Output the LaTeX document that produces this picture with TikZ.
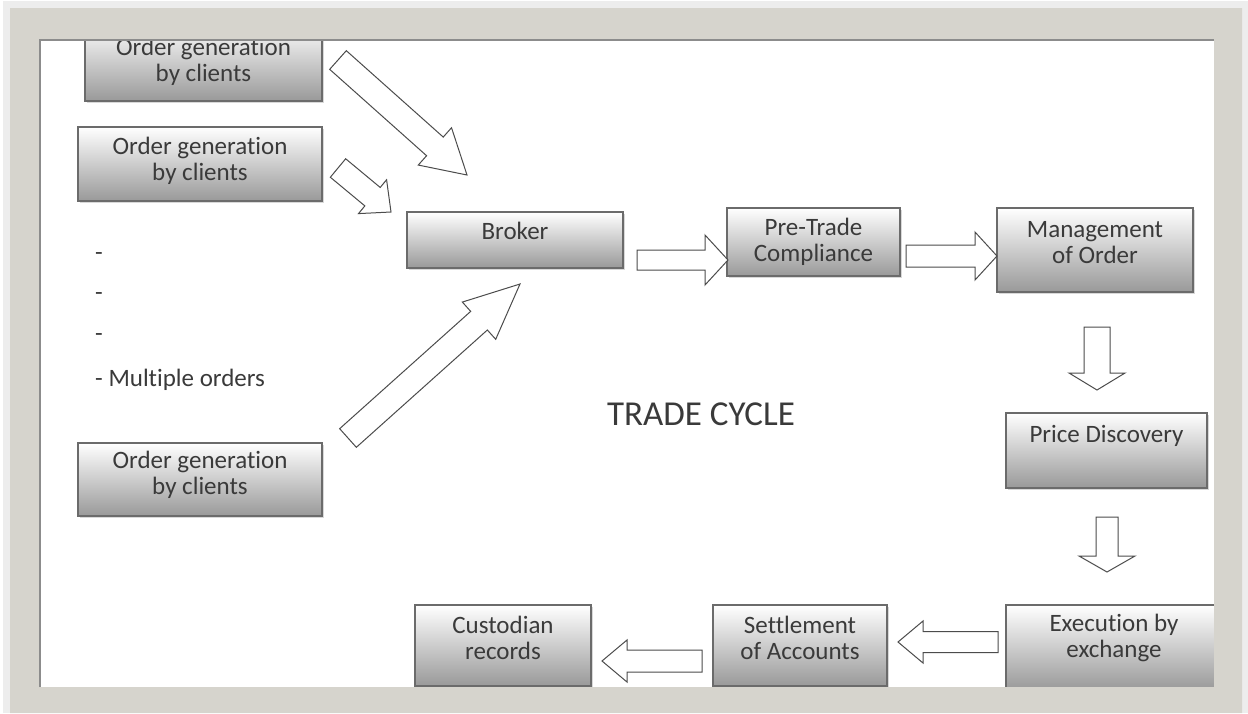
\documentclass[tikz,border=0pt]{standalone}
\usepackage{fontspec}
\setmainfont{Carlito}[Ligatures=NoCommon]
\usetikzlibrary{calc,shadows}

\definecolor{framecol}{RGB}{214,212,205}
\definecolor{inkgray}{RGB}{58,58,58}

% extra depth under the last line, pushes the text up in its box
\newcommand{\lift}[1]{\rule[-#1]{0pt}{#1}}
% hollow block arrow: tail, tip, half shaft, half head, head length
\newcommand{\fatarrow}[5]{%
  \draw[fat] ($(#1)!#3!90:(#2)$)
    -- ($(#2)!#5!(#1)!#3!-90:(#1)$)
    -- ($(#2)!#5!(#1)!#4!-90:(#1)$)
    -- (#2)
    -- ($(#2)!#5!(#1)!#4!90:(#1)$)
    -- ($(#2)!#5!(#1)!#3!90:(#1)$)
    -- ($(#1)!#3!-90:(#2)$) -- cycle;}

\tikzset{
  procbox/.style={draw=black!58, line width=1.1pt, top color=white,
    bottom color=black!40, align=center, text=inkgray, inner sep=0pt,
    font=\fontsize{25}{26}\selectfont,
    drop shadow={shadow xshift=1.5pt, shadow yshift=-2pt, opacity=.3}},
  note/.style={text=inkgray, inner sep=0pt, anchor=west,
    font=\fontsize{25}{26}\selectfont},
  fat/.style={draw=black!70, fill=white, line width=1pt, line join=miter},
}

\begin{document}
\begin{tikzpicture}[x=1pt,y=-1pt]
  \useasboundingbox (0,0) rectangle (1248,713);
  \fill[black!7] (3,1) rectangle (1248,713);
  \fill[white] (40,40) rectangle (1214,687);

  % clients
  \node[procbox, minimum width=237pt, minimum height=79pt] (client1)
    at (203.5,61.5) {Order generation\\by clients};
  \node[procbox, minimum width=244pt, minimum height=74pt] (client2)
    at (200,164) {Order generation\\by clients\lift{10pt}};
  \node[procbox, minimum width=244pt, minimum height=73pt] (client3)
    at (200,479.5) {Order generation\\by clients\lift{14pt}};

  \node[note] (dash1) at (95,257) {-};
  \node[note] (dash2) at (95,297) {-};
  \node[note] (dash3) at (95,338) {-};
  \node[note] (multi) at (95,380) {- Multiple orders};

  % cycle
  \node[procbox, minimum width=216pt, minimum height=56pt] (broker)
    at (515,240) {Broker\lift{18pt}};
  \node[procbox, minimum width=173pt, minimum height=68pt] (pretrade)
    at (813.5,242) {Pre-Trade\\Compliance};
  \node[procbox, minimum width=196pt, minimum height=84pt] (manage)
    at (1095,250) {Management\\of Order\lift{16pt}};
  \node[procbox, minimum width=201pt, minimum height=75pt] (price)
    at (1106.5,450.5) {Price Discovery\lift{33pt}};
  \node[procbox, minimum width=216pt, minimum height=85pt] (exec)
    at (1114,647.5) {Execution by\\exchange\lift{24pt}};
  \node[procbox, minimum width=174pt, minimum height=81pt] (settle)
    at (800,645.5) {Settlement\\of Accounts\lift{15pt}};
  \node[procbox, minimum width=176pt, minimum height=81pt] (custody)
    at (503,645.5) {Custodian\\records\lift{15pt}};

  \node[text=inkgray, font=\fontsize{35}{40}\selectfont] (cycle)
    at (701,414) {TRADE CYCLE};

  % block arrows
  \coordinate (c1s) at (338,60);    \coordinate (c1e) at (467,175);
  \coordinate (c2s) at (338,168);   \coordinate (c2e) at (391,212);
  \coordinate (c3s) at (348,438);   \coordinate (c3e) at (520,284);
  \coordinate (b1s) at (637,260);   \coordinate (b1e) at (728,260);
  \coordinate (p1s) at (906,256);   \coordinate (p1e) at (997,256);
  \coordinate (m1s) at (1097,327);  \coordinate (m1e) at (1097,390);
  \coordinate (d1s) at (1107,517);  \coordinate (d1e) at (1107,572);
  \coordinate (x1s) at (998,642);   \coordinate (x1e) at (898,642);
  \coordinate (s1s) at (702,661);   \coordinate (s1e) at (602,661);
  \fatarrow{c1s}{c1e}{12.5pt}{25pt}{43pt}
  \fatarrow{c2s}{c2e}{12pt}{22pt}{24pt}
  \fatarrow{c3s}{c3e}{12.5pt}{25pt}{55pt}
  \fatarrow{b1s}{b1e}{10pt}{25pt}{23pt}
  \fatarrow{p1s}{p1e}{11pt}{24pt}{22pt}
  \fatarrow{m1s}{m1e}{13pt}{28pt}{17pt}
  \fatarrow{d1s}{d1e}{11pt}{28pt}{16pt}
  \fatarrow{x1s}{x1e}{10.5pt}{21pt}{25pt}
  \fatarrow{s1s}{s1e}{11pt}{21pt}{25pt}

  % frame on top
  \fill[framecol, even odd rule] (10,8) rectangle (1242,713)
    (40,40) rectangle (1214,687);
  \draw[black!45, line width=1.5pt] (40,687) -- (40,40) -- (1214,40);
\end{tikzpicture}
\end{document}
